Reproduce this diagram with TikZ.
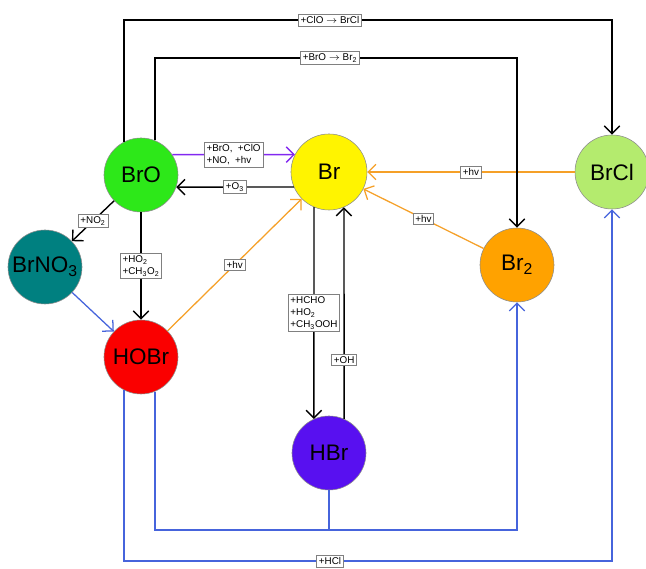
\documentclass[tikz,border=0pt]{standalone}
\usepackage{fontspec}
\setmainfont{Liberation Sans}
\usetikzlibrary{arrows.meta}
\definecolor{cBrO}{RGB}{45,232,25}
\definecolor{cBr}{RGB}{255,244,0}
\definecolor{cBrCl}{RGB}{180,235,110}
\definecolor{cBrNO}{RGB}{0,128,128}
\definecolor{cHOBr}{RGB}{250,0,0}
\definecolor{cBrtwo}{RGB}{255,162,0}
\definecolor{cHBr}{RGB}{88,16,240}
\definecolor{cPurple}{RGB}{130,40,240}
\definecolor{cOrange}{RGB}{245,160,40}
\definecolor{cBlue}{RGB}{70,100,220}
\begin{document}
\begin{tikzpicture}[x=0.025cm, y=-0.025cm,
      species/.style={circle, draw=black!45, thin, minimum size=1.85cm, inner sep=0pt, font=\fontsize{16}{18}\selectfont},
      rate/.style={rectangle, draw=gray, fill=white, text=black, thin, inner sep=1.6pt, align=left, font=\fontsize{7}{8.5}\selectfont},
      link/.style={line width=1pt, -{Straight Barb[length=5.5pt,width=11pt]}},
      bluelink/.style={link, cBlue, line width=0.9pt},
      sunlink/.style={link, cOrange, line width=0.9pt},
    ]
      \useasboundingbox (0,0) rectangle (646,569);

      \node[species, fill=cBrO] (BrO) at (141,175) {BrO};
      \node[species, fill=cBr, minimum size=1.9cm] (Br) at (329,172) {Br};
      \node[species, fill=cBrCl] (BrCl) at (612,172) {BrCl};
      \node[species, fill=cBrNO] (BrNO) at (45,267) {BrNO\textsubscript{3}};
      \node[species, fill=cHOBr] (HOBr) at (141,357) {HOBr};
      \node[species, fill=cBrtwo] (Brtwo) at (517,265) {Br\textsubscript{2}};
      \node[species, fill=cHBr] (HBr) at (329,453) {HBr};

      \coordinate (topA) at (330,20);
      \coordinate (topB) at (330,58);
      \coordinate (botA) at (330,530);
      \coordinate (botB) at (330,561);

      % photolysis
      \draw[sunlink] (BrCl) -- node[rate] {+hv} (Br);
      \draw[sunlink] (Brtwo) -- node[rate] {+hv} (Br);
      \draw[sunlink] (HOBr) -- node[rate] {+hv} (Br);

      % black reactions
      \draw[link] (BrO.117) |- (topA) node[rate] {+ClO $\rightarrow$ BrCl} -| (BrCl.north);
      \draw[link] (BrO.68) |- (topB) node[rate] {+BrO $\rightarrow$ Br\textsubscript{2}} -| (Brtwo.north);
      \draw[link, cPurple] (BrO.33) -- node[rate] {+BrO,\ \ +ClO\\+NO,\ \ +hv} (Br.153);
      \draw[link] (Br.203) -- node[rate] {+O\textsubscript{3}} (BrO.341);
      \draw[link] (BrO) -- node[rate] {+NO\textsubscript{2}} (BrNO);
      \draw[link] (BrO) -- node[rate] {+HO\textsubscript{2}\\+CH\textsubscript{3}O\textsubscript{2}} (HOBr);
      \draw[link] (Br.247) -- node[rate] {+HCHO\\+HO\textsubscript{2}\\+CH\textsubscript{3}OOH} (HBr.114);
      \draw[link] (HBr.66) -- node[rate, pos=0.28] {+OH} (Br.293);

      % heterogeneous
      \draw[bluelink] (BrNO) -- (HOBr);
      \draw[bluelink] (HOBr.292) |- (botA) -| (Brtwo.south);
      \draw[bluelink, -] (HBr.south) -- (HBr.south |- botA);
      \draw[bluelink] (HOBr.243) |- (botB) node[rate] {+HCl} -| (BrCl.south);
    \end{tikzpicture}
\end{document}
